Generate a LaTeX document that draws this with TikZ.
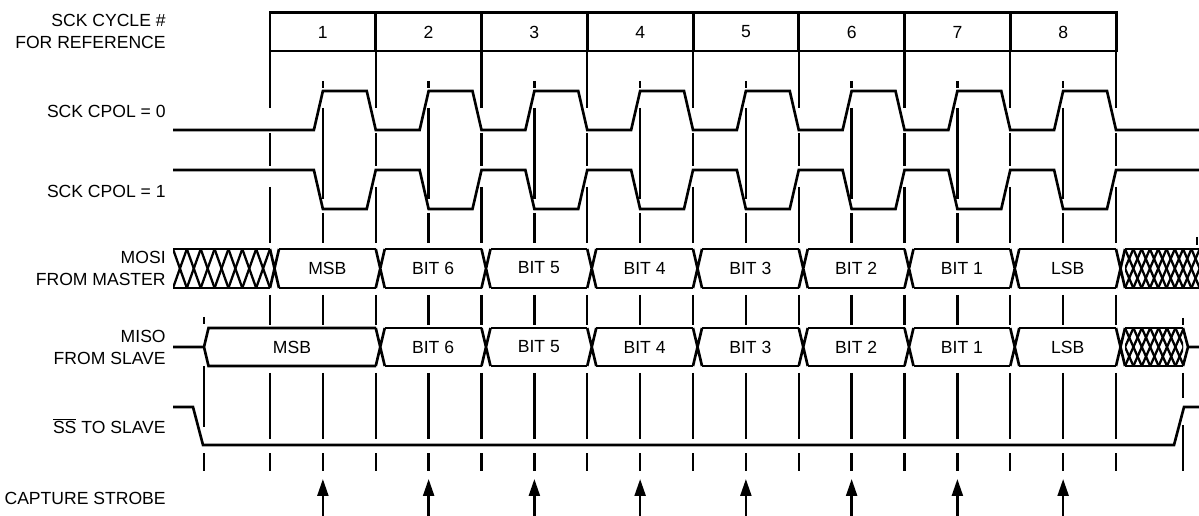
\documentclass[tikz,border=0pt]{standalone}
\usepackage{fontspec}
\setmainfont{Liberation Sans}
\usetikzlibrary{arrows.meta}

\def\per{105.75}
% crossed (unknown) data region: x1, x2, top, bottom, step, span
\newcommand{\hatchfill}[6]{%
  \begin{scope}
    \clip (#1,#3) rectangle (#2,#4);
    \foreach \hk in {-3,...,12} {
      \draw[hatchline] ({#1+\hk*#5},#3) -- ++(#6,#4-#3);
      \draw[hatchline] ({#1+\hk*#5},#4) -- ++(#6,#3-#4);
    }
  \end{scope}
  \draw[wave] (#1,#3) -- (#2,#3) (#1,#4) -- (#2,#4);
}

\begin{document}
\begin{tikzpicture}[x=0.02cm, y=-0.02cm,
    wave/.style={line width=1.5pt},
    hatchline/.style={line width=1.3pt},
    refline/.style={line width=1.3pt},
    cyclebox/.style={line width=1.7pt},
    siglabel/.style={anchor=east, align=right, inner sep=0pt,
      font=\fontsize{10}{12.5}\selectfont},
    bitlabel/.style={inner sep=0pt, font=\fontsize{10}{12.5}\selectfont},
    strobe/.style={-{Triangle[length=0.34cm,width=0.22cm]}, line width=1.3pt}
  ]
  \useasboundingbox (0,0) rectangle (1199,516);

  % signal names
  \node[siglabel] (cyclename) at (166,31) {SCK CYCLE \#\\FOR REFERENCE};
  \node[siglabel] (cpolzero) at (166,111) {SCK CPOL = 0};
  \node[siglabel] (cpolone) at (166,191) {SCK CPOL = 1};
  \node[siglabel] (mosiname) at (166,268) {MOSI\\FROM MASTER};
  \node[siglabel] (misoname) at (166,347) {MISO\\FROM SLAVE};
  \node[siglabel] (ssname) at (166,426) {$\overline{\mbox{SS}}$ TO SLAVE};
  \node[siglabel] (strobename) at (166,498) {CAPTURE STROBE};

  % cycle numbers
  \draw[cyclebox] (270,13) rectangle (1116,51);
  \foreach \i in {1,...,8} {
    \node[bitlabel] (cycle\i) at ({270+\i*\per-\per/2},32) {\i};
  }
  \foreach \i in {1,...,7} {
    \draw[cyclebox] ({270+\i*\per},13) -- ({270+\i*\per},51);
  }

  % reference lines at cycle edges
  \foreach \i in {0,...,8} {
    \pgfmathsetmacro{\xb}{270+\i*\per}
    \draw[refline] (\xb,51) -- (\xb,108) (\xb,133) -- (\xb,166)
      (\xb,187) -- (\xb,243) (\xb,295) -- (\xb,325)
      (\xb,373) -- (\xb,439) (\xb,453) -- (\xb,471);
  }
  % reference lines at mid cycle and strobes
  \foreach \i in {1,...,8} {
    \pgfmathsetmacro{\xm}{270+\i*\per-\per/2}
    \draw[refline] (\xm,81) -- (\xm,88) (\xm,108) -- (\xm,199)
      (\xm,213) -- (\xm,243) (\xm,295) -- (\xm,325)
      (\xm,373) -- (\xm,439) (\xm,453) -- (\xm,471);
    \draw[strobe] (\xm,516) -- (\xm,479);
  }
  \draw[refline] (204,317) -- (204,324) (204,366) -- (204,427) (204,453) -- (204,471);
  \draw[refline] (1183,318) -- (1183,325) (1183,373) -- (1183,398) (1183,425) -- (1183,471);
  \draw[refline] (1197,237) -- (1197,245);

  % SCK
  \draw[wave] (173,130) \foreach \i in {1,...,8} {
      -- ({270+\i*\per-\per/2-9},130) -- ({270+\i*\per-\per/2},91)
      -- ({270+\i*\per-9},91) -- ({270+\i*\per},130) } -- (1199,130);
  \draw[wave] (173,170) \foreach \i in {1,...,8} {
      -- ({270+\i*\per-\per/2-9},170) -- ({270+\i*\per-\per/2},209)
      -- ({270+\i*\per-9},209) -- ({270+\i*\per},170) } -- (1199,170);

  % MOSI
  \hatchfill{173}{270}{249}{288}{13.86}{13.86}
  \foreach \i in {0,...,8} {
    \draw[wave] ({270+\i*\per},249) -- ++(9,39) ({270+\i*\per},288) -- ++(9,-39);
  }
  \foreach \i/\bit in {1/MSB,2/BIT 6,3/BIT 5,4/BIT 4,5/BIT 3,6/BIT 2,7/BIT 1,8/LSB} {
    \draw[wave] ({279+(\i-1)*\per},249) -- ({270+\i*\per},249)
      ({279+(\i-1)*\per},288) -- ({270+\i*\per},288);
    \node[bitlabel] (mosi\i) at ({274.5+\i*\per-\per/2},268) {\bit};
  }
  \hatchfill{1125}{1199}{249}{288}{8.3}{16.6}

  % MISO
  \draw[wave] (173,347) -- (204,347) -- (208.5,328) -- (376,328)
    (204,347) -- (208.5,366) -- (376,366);
  \node[bitlabel] (miso1) at (292,347) {MSB};
  \foreach \i in {1,...,8} {
    \draw[wave] ({270+\i*\per},328) -- ++(9,38) ({270+\i*\per},366) -- ++(9,-38);
  }
  \foreach \i/\bit in {2/BIT 6,3/BIT 5,4/BIT 4,5/BIT 3,6/BIT 2,7/BIT 1,8/LSB} {
    \draw[wave] ({279+(\i-1)*\per},328) -- ({270+\i*\per},328)
      ({279+(\i-1)*\per},366) -- ({270+\i*\per},366);
    \node[bitlabel] (miso\i) at ({274.5+\i*\per-\per/2},347) {\bit};
  }
  \hatchfill{1125}{1183}{328}{366}{8.4}{16.8}
  \draw[wave] (1183,328) -- (1188,347) -- (1183,366) (1188,347) -- (1199,347);

  % SS
  \draw[wave] (173,407) -- (193,407) -- (203,445) -- (1174,445) -- (1184,407) -- (1199,407);
\end{tikzpicture}
\end{document}
